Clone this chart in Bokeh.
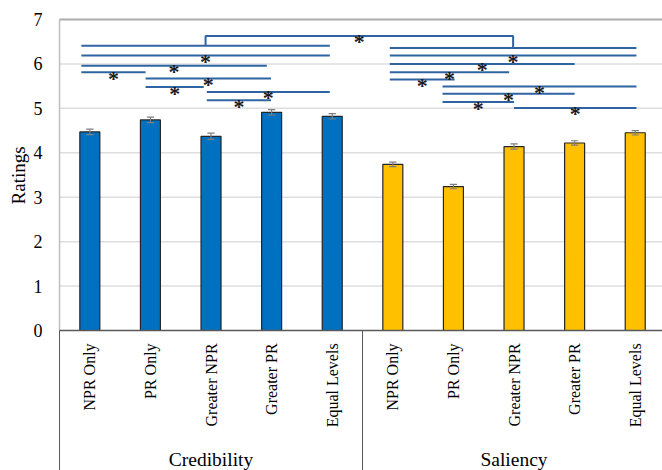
import math
from bokeh.plotting import figure
from bokeh.models import ColumnDataSource
from bokeh.core.properties import value
from bokeh.embed import file_html
from bokeh.resources import INLINE

# ---- data -------------------------------------------------------------
groups = ["Credibility", "Saliency"]
conditions = ["NPR Only", "PR Only", "Greater NPR", "Greater PR", "Equal Levels"]
credibility = [4.47, 4.74, 4.37, 4.91, 4.82]
credibility_err = [0.06, 0.06, 0.07, 0.06, 0.06]
saliency = [3.74, 3.24, 4.14, 4.22, 4.45]
saliency_err = [0.05, 0.05, 0.06, 0.05, 0.05]
y_ticks = [0, 1, 2, 3, 4, 5, 6, 7]
y_title = "Ratings"

# significant pairwise comparisons (start, end, height) on the chart axes
sig_x0 = [0.36, 0.36, 0.36, 1.42, 1.42, 2.43, 2.43,
          5.45, 5.45, 5.45, 5.45, 6.32, 6.32, 6.32, 7.50]
sig_x1 = [4.46, 3.42, 1.42, 3.49, 2.38, 4.46, 3.49,
          9.52, 8.50, 7.42, 6.52, 9.52, 8.50, 7.50, 9.52]
sig_y = [6.19, 5.96, 5.81, 5.67, 5.48, 5.37, 5.18,
         6.19, 6.00, 5.81, 5.65, 5.49, 5.33, 5.14, 5.01]
# the Credibility vs Saliency comparison joins two group-wide bars
group_x0 = [0.36, 5.45]
group_x1 = [4.46, 9.52]
group_y = [6.41, 6.36]
group_link_y = 6.63

# ---- layout -----------------------------------------------------------
# the canvas is one frame; the value axis sits at x = 0, the baseline at y = 0
W, H = 662, 470
FONT = value("Liberation Serif")
x_start, x_end = -0.974, 9.95
y_start, y_end = -3.151, 7.427

p = figure(width=W, height=H, output_backend="svg", toolbar_location=None,
           x_range=(x_start, x_end), y_range=(y_start, y_end),
           x_axis_location=None, y_axis_location=None,
           min_border_left=0, min_border_right=0,
           min_border_top=0, min_border_bottom=0)
p.outline_line_color = None
p.xgrid.visible = False
p.ygrid.visible = False
p.background_fill_color = "white"
p.border_fill_color = "white"

n_cat = len(conditions) * len(groups)

# horizontal gridlines and plot-area frame
grid_vals = y_ticks[1:-1]
p.segment(x0=[0] * len(grid_vals), x1=[n_cat] * len(grid_vals),
          y0=grid_vals, y1=grid_vals, line_color="#dedede", line_width=1.5)
p.segment(x0=[0], x1=[n_cat], y0=[y_ticks[-1]], y1=[y_ticks[-1]],
          line_color="#ababab", line_width=2)
p.segment(x0=[0], x1=[0], y0=[0], y1=[y_ticks[-1]],
          line_color="#bfbfbf", line_width=1.5)

# value-axis tick labels and title
p.text(x=[-0.28] * len(y_ticks), y=y_ticks, text=[str(t) for t in y_ticks],
       text_align="right", text_baseline="middle",
       text_font=FONT, text_font_size="18px", text_color="#000000")
p.text(x=[-0.677], y=[3.49], text=[y_title], angle=math.pi / 2,
       text_align="center", text_baseline="middle",
       text_font=FONT, text_font_size="19px", text_color="#000000")

# bars
xs = [i + 0.5 for i in range(n_cat)]
vals = credibility + saliency
errs = credibility_err + saliency_err
colors = ["#0070C0"] * len(credibility) + ["#FFC000"] * len(saliency)
src = ColumnDataSource(dict(x=xs, top=vals, color=colors,
                            lo=[v - e for v, e in zip(vals, errs)],
                            hi=[v + e for v, e in zip(vals, errs)]))
p.vbar(x="x", top="top", bottom=0, width=0.33, source=src,
       fill_color="color", line_color="#262626", line_width=1.2)

# error bars
p.segment(x0="x", x1="x", y0="lo", y1="hi", source=src,
          line_color="#7f7f7f", line_width=1.2)
cap = 0.06
p.segment(x0=[x - cap for x in xs], x1=[x + cap for x in xs],
          y0=src.data["hi"], y1=src.data["hi"], line_color="#7f7f7f", line_width=1.2)
p.segment(x0=[x - cap for x in xs], x1=[x + cap for x in xs],
          y0=src.data["lo"], y1=src.data["lo"], line_color="#7f7f7f", line_width=1.2)

# category axis: baseline and group separators
p.segment(x0=[0], x1=[n_cat], y0=[0], y1=[0], line_color="#595959", line_width=1.5)
seps = [0, len(conditions), n_cat]
p.segment(x0=seps, x1=seps, y0=[0] * 3, y1=[y_start] * 3,
          line_color="#595959", line_width=1)

# category and group labels
p.text(x=xs, y=[-0.29] * n_cat, text=conditions * len(groups), angle=math.pi / 2,
       text_align="right", text_baseline="middle",
       text_font=FONT, text_font_size="16px", text_color="#000000")
p.text(x=[len(conditions) * (g + 0.5) for g in range(len(groups))],
       y=[-3.13] * len(groups), text=groups,
       text_align="center", text_baseline="bottom",
       text_font=FONT, text_font_size="19.5px", text_color="#000000")

# significance markers
LINK = "#2E64A2"
p.segment(x0=sig_x0 + group_x0, x1=sig_x1 + group_x1,
          y0=sig_y + group_y, y1=sig_y + group_y, line_color=LINK, line_width=2)
mid_l = (group_x0[0] + group_x1[0]) / 2
mid_r = (group_x0[1] + group_x1[1]) / 2
p.line(x=[mid_l, mid_l, mid_r, mid_r],
       y=[group_y[0], group_link_y, group_link_y, group_y[1]],
       line_color=LINK, line_width=2)

star_x = [(a + b) / 2 for a, b in zip(sig_x0, sig_x1)] + [(mid_l + mid_r) / 2]
star_y = sig_y + [group_link_y]
p.text(x=star_x, y=star_y, text=["*"] * len(star_x),
       text_align="center", text_baseline="middle", y_offset=6,
       text_font=FONT, text_font_size="22px", text_font_style="bold",
       text_color="#1a1a1a")

open("out.html", "w").write(file_html(p, INLINE))
